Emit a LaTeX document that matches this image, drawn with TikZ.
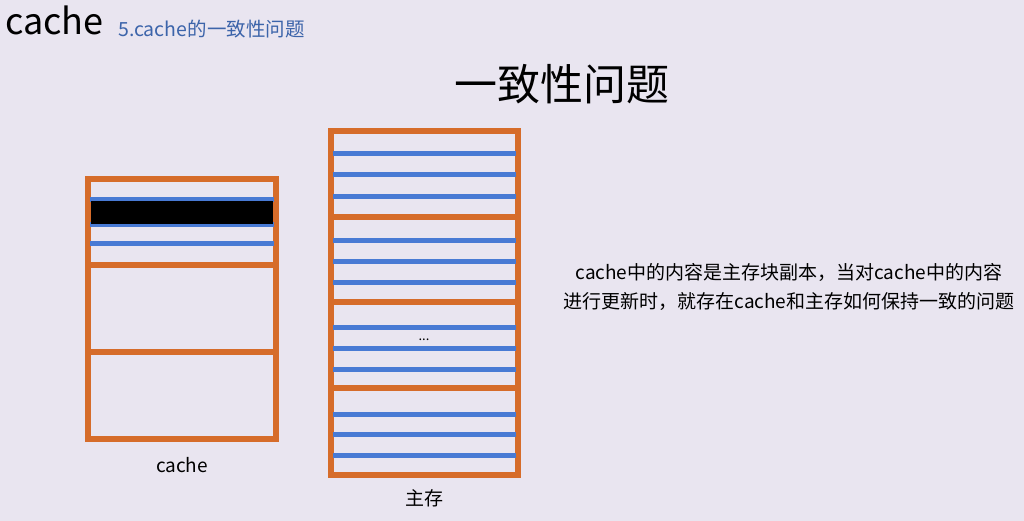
\documentclass[tikz,border=0pt]{standalone}
\usepackage{fontspec}
\setmainfont{Noto Sans CJK SC}
\usetikzlibrary{positioning}
\definecolor{bgcol}{RGB}{233,229,240}
\definecolor{boxorange}{RGB}{214,108,42}
\definecolor{lineblue}{RGB}{72,122,212}
\definecolor{subblue}{RGB}{60,100,170}

\begin{document}
\begin{tikzpicture}[
    x=1pt, y=-1pt,
    frame/.style={draw=boxorange, line width=6pt},
    divider/.style={boxorange, line width=6pt},
    row/.style={lineblue, line width=5pt},
    every node/.append style={font=\fontsize{19}{25}\selectfont}
]
    % Background
    \fill[bgcol] (0,0) rectangle (1024,521);
    \useasboundingbox (0,0) rectangle (1024,521);

    % Headings
    \node[anchor=west, font=\fontsize{36}{40}\selectfont, inner sep=0pt] (head) at (5,20) {cache};
    \node[anchor=west, text=subblue, font=\fontsize{19.5}{23}\selectfont, inner sep=0pt] (sub) at (118,29) {5.cache的一致性问题};
    \node[font=\fontsize{43}{48}\selectfont] (title) at (562,84) {一致性问题};

    % Cache
    \draw[frame] (88,179) rectangle (276,439);
    \draw[row] (90,200) -- (274,200);
    \draw[row] (90,225) -- (274,225);
    \draw[row] (90,243) -- (274,243);
    \fill[black] (91,201) rectangle (273,224);
    \draw[divider] (88,265) -- (276,265);
    \draw[divider] (88,352) -- (276,352);
    \node (cachelbl) at (182,465) {cache};

    % Main memory
    \draw[frame] (331,131) rectangle (518,475);
    \foreach \y in {154,175,197,240,261,282,327,348,369,414,434,455}
        \draw[row] (333,\y) -- (516,\y);
    \foreach \y in {217,302,388}
        \draw[divider] (331,\y) -- (518,\y);
    \node[font=\fontsize{13}{15}\selectfont] (dots) at (424,340) {...};
    \node (memlbl) at (424,498) {主存};

    % Note
    \node[align=center, font=\fontsize{19}{29}\selectfont] (note) at (789,287) {cache中的内容是主存块副本，当对cache中的内容\\进行更新时，就存在cache和主存如何保持一致的问题};
\end{tikzpicture}
\end{document}
